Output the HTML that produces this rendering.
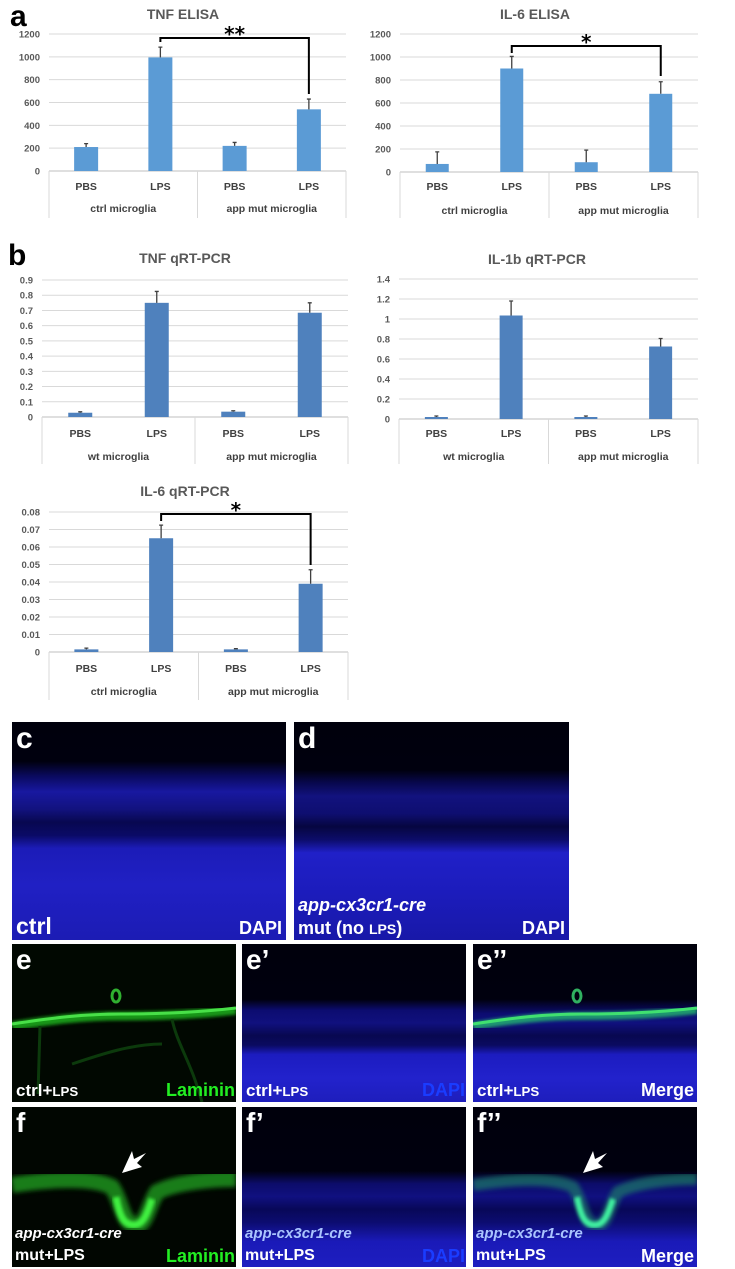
<!DOCTYPE html>
<html><head><meta charset="utf-8">
<style>
html,body{margin:0;padding:0;background:#fff;}
body{width:735px;height:1269px;position:relative;overflow:hidden;font-family:"Liberation Sans",sans-serif;}
#charts{position:absolute;left:0;top:0;}
.panel{position:absolute;overflow:hidden;background:#000008;}
.lbl{position:absolute;font-family:"Liberation Sans",sans-serif;font-weight:bold;color:#fff;white-space:nowrap;line-height:1;}
.sm{font-size:0.78em;}
</style></head>
<body>
<svg id="charts" width="735" height="720">
  <text x="10" y="26" font-size="30" font-weight="bold" font-family="Liberation Sans" fill="#000">a</text>
  <text x="8" y="265" font-size="30" font-weight="bold" font-family="Liberation Sans" fill="#000">b</text>
</svg>

<!-- panel c -->
<div class="panel" style="left:12px;top:722px;width:274px;height:218px;background:linear-gradient(to bottom,#00000c 0%,#00000e 18%,#0a0a60 25%,#1818a0 32%,#12127e 40%,#080850 46%,#0a0a66 52%,#1c1cb8 58%,#2020c4 75%,#1c1cb4 100%);">
  <div class="lbl" style="left:4px;top:2px;font-size:30px;">c</div>
  <div class="lbl" style="left:4px;bottom:2px;font-size:23px;">ctrl</div>
  <div class="lbl" style="right:4px;bottom:3px;font-size:18px;">DAPI</div>
</div>
<!-- panel d -->
<div class="panel" style="left:294px;top:722px;width:275px;height:218px;background:linear-gradient(to bottom,#00000c 0%,#00000e 22%,#08084e 28%,#12127e 34%,#0e0e70 42%,#060640 48%,#0c0c6a 54%,#2020c8 60%,#1c1cbc 78%,#1818a8 100%);">
  <div class="lbl" style="left:4px;top:2px;font-size:30px;">d</div>
  <div class="lbl" style="left:4px;bottom:26px;font-size:18px;font-style:italic;">app-cx3cr1-cre</div>
  <div class="lbl" style="left:4px;bottom:3px;font-size:18px;">mut (no <span class="sm">LPS</span>)</div>
  <div class="lbl" style="right:4px;bottom:3px;font-size:18px;">DAPI</div>
</div>

<!-- panel e -->
<div class="panel" style="left:12px;top:944px;width:224px;height:158px;background:#010801;">
  <svg width="224" height="158" style="position:absolute;left:0;top:0">
    <defs><filter id="bl"><feGaussianBlur stdDeviation="1.5"/></filter></defs>
    <path d="M0,82 C40,76 70,72 110,72 C150,72 190,70 224,66" stroke="#1fb01f" stroke-width="9" fill="none" filter="url(#bl)" opacity="0.85"/>
    <path d="M0,80 C40,74 70,70 110,70 C150,70 190,68 224,64" stroke="#48e048" stroke-width="3" fill="none"/>
    <ellipse cx="104" cy="52" rx="4" ry="6" fill="none" stroke="#30b030" stroke-width="3"/>
    <path d="M28,82 L26,150 M160,75 C165,100 180,120 190,158 M60,120 C90,110 120,100 150,100" stroke="#0c3a0c" stroke-width="3" fill="none"/>
  </svg>
  <div class="lbl" style="left:4px;top:2px;font-size:28px;">e</div>
  <div class="lbl" style="left:4px;bottom:3px;font-size:17px;">ctrl+<span class="sm">LPS</span></div>
  <div class="lbl" style="right:1px;bottom:3px;font-size:18px;color:#22ee22;">Laminin</div>
</div>
<div class="panel" style="left:242px;top:944px;width:224px;height:158px;background:linear-gradient(to bottom,#00000c 0%,#00000e 35%,#0c0c70 42%,#10107e 50%,#080850 58%,#0a0a60 64%,#1c1cc0 70%,#2222cc 85%,#1e1ebc 100%);">
  <div class="lbl" style="left:4px;top:2px;font-size:28px;">e’</div>
  <div class="lbl" style="left:4px;bottom:3px;font-size:17px;">ctrl+<span class="sm">LPS</span></div>
  <div class="lbl" style="right:1px;bottom:3px;font-size:18px;color:#1a3cff;">DAPI</div>
</div>
<div class="panel" style="left:473px;top:944px;width:224px;height:158px;background:linear-gradient(to bottom,#00000c 0%,#00000e 35%,#0c0c70 44%,#10107e 50%,#080850 58%,#0a0a60 64%,#1c1cc0 70%,#2222cc 85%,#1e1ebc 100%);">
  <svg width="224" height="158" style="position:absolute;left:0;top:0">
    <path d="M0,82 C40,76 70,72 110,72 C150,72 190,70 224,66" stroke="#20b070" stroke-width="8" fill="none" filter="url(#bl)" opacity="0.85"/>
    <path d="M0,80 C40,74 70,70 110,70 C150,70 190,68 224,64" stroke="#40e070" stroke-width="3" fill="none"/>
    <ellipse cx="104" cy="52" rx="4" ry="6" fill="none" stroke="#30b060" stroke-width="3"/>
  </svg>
  <div class="lbl" style="left:4px;top:2px;font-size:28px;">e’’</div>
  <div class="lbl" style="left:4px;bottom:3px;font-size:17px;">ctrl+<span class="sm">LPS</span></div>
  <div class="lbl" style="right:3px;bottom:3px;font-size:18px;">Merge</div>
</div>

<!-- panel f -->
<div class="panel" style="left:12px;top:1107px;width:224px;height:160px;background:#010601;">
  <svg width="224" height="160" style="position:absolute;left:0;top:0">
    <defs><filter id="bl2"><feGaussianBlur stdDeviation="2.5"/></filter></defs>
    <path d="M0,78 C40,72 80,70 100,80 C110,95 110,115 122,118 C135,120 135,100 145,85 C165,75 200,72 224,72" stroke="#1a8a1a" stroke-width="16" fill="none" filter="url(#bl2)" opacity="0.9"/>
    <path d="M104,90 C108,110 112,118 122,118 C132,118 136,104 140,92" stroke="#40f040" stroke-width="7" fill="none" filter="url(#bl)"/>
    <polygon points="110,66 120,44 122,52 134,46 125,56 130,60" fill="#fff"/>
  </svg>
  <div class="lbl" style="left:4px;top:2px;font-size:28px;">f</div>
  <div class="lbl" style="left:3px;bottom:26px;font-size:15px;font-style:italic;">app-cx3cr1-cre</div>
  <div class="lbl" style="left:3px;bottom:3px;font-size:16px;">mut+LPS</div>
  <div class="lbl" style="right:1px;bottom:2px;font-size:18px;color:#22ee22;">Laminin</div>
</div>
<div class="panel" style="left:242px;top:1107px;width:224px;height:160px;background:linear-gradient(to bottom,#00000c 0%,#00000e 40%,#0c0c6a 48%,#101080 56%,#080858 64%,#0c0c70 72%,#1a1ab8 84%,#1e1ec0 100%);">
  <div class="lbl" style="left:4px;top:2px;font-size:28px;">f’</div>
  <div class="lbl" style="left:3px;bottom:26px;font-size:15px;font-style:italic;color:#aac4ff;">app-cx3cr1-cre</div>
  <div class="lbl" style="left:3px;bottom:3px;font-size:16px;">mut+LPS</div>
  <div class="lbl" style="right:1px;bottom:2px;font-size:18px;color:#1a3cff;">DAPI</div>
</div>
<div class="panel" style="left:473px;top:1107px;width:224px;height:160px;background:linear-gradient(to bottom,#00000c 0%,#00000e 40%,#0c0c6a 48%,#101080 56%,#080858 64%,#0c0c70 72%,#1a1ab8 84%,#1e1ec0 100%);">
  <svg width="224" height="160" style="position:absolute;left:0;top:0">
    <path d="M0,78 C40,72 80,70 100,80 C110,95 110,115 122,118 C135,120 135,100 145,85 C165,75 200,72 224,72" stroke="#1a7a6a" stroke-width="12" fill="none" filter="url(#bl2)" opacity="0.7"/>
    <path d="M104,90 C108,110 112,118 122,118 C132,118 136,104 140,92" stroke="#40f0a0" stroke-width="6" fill="none" filter="url(#bl)"/>
    <polygon points="110,66 120,44 122,52 134,46 125,56 130,60" fill="#fff"/>
  </svg>
  <div class="lbl" style="left:4px;top:2px;font-size:28px;">f’’</div>
  <div class="lbl" style="left:3px;bottom:26px;font-size:15px;font-style:italic;color:#aac4ff;">app-cx3cr1-cre</div>
  <div class="lbl" style="left:3px;bottom:3px;font-size:16px;">mut+LPS</div>
  <div class="lbl" style="right:3px;bottom:2px;font-size:18px;">Merge</div>
</div>

<script>
const categories = ["PBS","LPS","PBS","LPS"];
const groupsCtrl = ["ctrl microglia","app mut microglia"];
const groupsWt = ["wt microglia","app mut microglia"];

const tnfElisaValues = [210, 995, 220, 540];
const tnfElisaErrors = [30, 90, 30, 90];
const tnfElisaTicks = ["0","200","400","600","800","1000","1200"];

const il6ElisaValues = [70, 900, 85, 680];
const il6ElisaErrors = [105, 105, 105, 105];
const il6ElisaTicks = ["0","200","400","600","800","1000","1200"];

const tnfPcrValues = [0.028, 0.75, 0.035, 0.685];
const tnfPcrErrors = [0.006, 0.075, 0.006, 0.065];
const tnfPcrTicks = ["0","0.1","0.2","0.3","0.4","0.5","0.6","0.7","0.8","0.9"];

const il1bPcrValues = [0.02, 1.035, 0.02, 0.725];
const il1bPcrErrors = [0.01, 0.145, 0.01, 0.08];
const il1bPcrTicks = ["0","0.2","0.4","0.6","0.8","1","1.2","1.4"];

const il6PcrValues = [0.0015, 0.065, 0.0015, 0.039];
const il6PcrErrors = [0.0007, 0.0075, 0.0004, 0.008];
const il6PcrTicks = ["0","0.01","0.02","0.03","0.04","0.05","0.06","0.07","0.08"];

const NS = "http://www.w3.org/2000/svg";
const svg = document.getElementById("charts");
function mk(tag, attrs, parent){
  const e = document.createElementNS(NS, tag);
  for (const k in attrs) e.setAttribute(k, attrs[k]);
  (parent||svg).appendChild(e);
  return e;
}
function drawChart(o){
  const g = mk("g", {});
  
  
  const maxV = parseFloat(o.ticks[o.ticks.length-1]);
  const y = v => o.y0 - (v/maxV)*(o.y0-o.yTop);
  const band = (o.x1-o.x0)/o.values.length;
  const xc = i => o.x0 + band*(i+0.5);
  const t = mk("text", {x:o.titleX, y:o.titleY, "text-anchor":"middle", "font-size":14, "font-weight":"bold", fill:"#595959", "font-family":"Liberation Sans"}, g);
  t.textContent = o.title;
  
  
  o.ticks.forEach(tk => {
    const v = parseFloat(tk), yy = y(v);
    const gl = mk("line", {x1:o.x0, x2:o.x1, y1:yy, y2:yy, stroke: v===0?"#bfbfbf":"#d9d9d9", "stroke-width":1}, g);
    
    
    const tl = mk("text", {x:o.x0-9, y:yy+3.5, "text-anchor":"end", "font-size":9.5, "font-weight":"bold", fill:"#595959", "font-family":"Liberation Sans"}, g);
    tl.textContent = tk;
    
    
  });
  [0, 2, 4].forEach(k => {
    const xx = o.x0 + band*k;
    const ln = mk("line", {x1:xx, x2:xx, y1:o.y0, y2:o.boxBottom, stroke:"#d9d9d9", "stroke-width":1}, g);
    
    
  });
  o.values.forEach((v, i) => {
    const cx = xc(i), w = o.barW;
    const r = mk("rect", {x:cx-w/2, y:y(v), width:w, height:o.y0-y(v), fill:o.color}, g);
    
    
    const et = y(v + o.errors[i]);
    const el = mk("path", {d:`M${cx},${y(v)} V${et} M${cx-2},${et} H${cx+2}`, stroke:"#404040", "stroke-width":1.3, fill:"none"}, g);
    
    
    const cl = mk("text", {x:cx, y:o.catY, "text-anchor":"middle", "font-size":10.5, "font-weight":"bold", fill:"#404040", "font-family":"Liberation Sans"}, g);
    cl.textContent = categories[i];
    
    
  });
  o.groups.forEach((gn, k) => {
    const gl = mk("text", {x:o.x0 + band*(2*k+1), y:o.grpY, "text-anchor":"middle", "font-size":10.5, "font-weight":"bold", fill:"#404040", "font-family":"Liberation Sans"}, g);
    gl.textContent = gn;
    
    
  });
  if (o.bracket) {
    const b = o.bracket;
    const xl = xc(1), xr = xc(3);
    const br = mk("path", {d:`M${xl},${b.y+b.ld} V${b.y} H${xr} V${b.y+b.rd}`, stroke:"#000", "stroke-width":2, fill:"none"}, g);
    
    
    const st = mk("text", {x:(xl+xr)/2, y:b.y+3, "text-anchor":"middle", "font-size":20, "font-weight":"bold", fill:"#000", "font-family":"DejaVu Sans"}, g);
    st.textContent = b.stars;
    
    
  }
}
drawChart({name:"tnf-elisa-chart", title:"TNF ELISA", titleX:183, titleY:19, x0:49, x1:346, yTop:34, y0:171, ticks:tnfElisaTicks, values:tnfElisaValues, errors:tnfElisaErrors, color:"#5b9bd5", barW:24, catY:190, grpY:212, boxBottom:218, groups:groupsCtrl, bracket:{y:38, ld:4, rd:56, stars:"**"}});
drawChart({name:"il6-elisa-chart", title:"IL-6 ELISA", titleX:535, titleY:19, x0:400, x1:698, yTop:34, y0:172, ticks:il6ElisaTicks, values:il6ElisaValues, errors:il6ElisaErrors, color:"#5b9bd5", barW:23, catY:190, grpY:214, boxBottom:218, groups:groupsCtrl, bracket:{y:46, ld:7, rd:30, stars:"*"}});
drawChart({name:"tnf-qrtpcr-chart", title:"TNF qRT-PCR", titleX:185, titleY:263, x0:42, x1:348, yTop:280, y0:417, ticks:tnfPcrTicks, values:tnfPcrValues, errors:tnfPcrErrors, color:"#4f81bd", barW:24, catY:437, grpY:460, boxBottom:464, groups:groupsWt});
drawChart({name:"il1b-qrtpcr-chart", title:"IL-1b qRT-PCR", titleX:537, titleY:264, x0:399, x1:698, yTop:279, y0:419, ticks:il1bPcrTicks, values:il1bPcrValues, errors:il1bPcrErrors, color:"#4f81bd", barW:23, catY:437, grpY:460, boxBottom:464, groups:groupsWt});
drawChart({name:"il6-qrtpcr-chart", title:"IL-6 qRT-PCR", titleX:185, titleY:496, x0:49, x1:348, yTop:512, y0:652, ticks:il6PcrTicks, values:il6PcrValues, errors:il6PcrErrors, color:"#4f81bd", barW:24, catY:672, grpY:695, boxBottom:700, groups:groupsCtrl, bracket:{y:514, ld:7, rd:51, stars:"*"}});
</script>
</body></html>
